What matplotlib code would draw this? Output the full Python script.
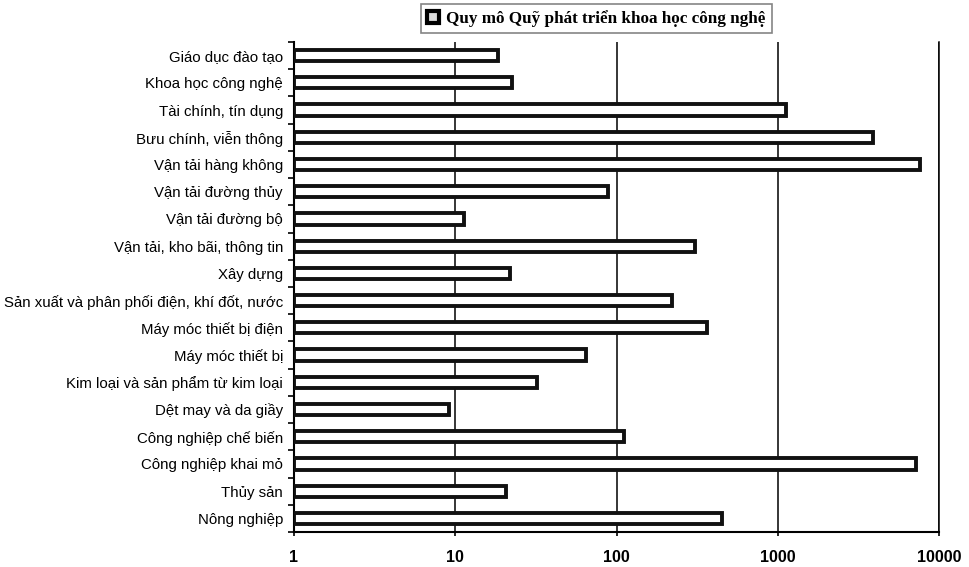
import matplotlib
matplotlib.use("Agg")
import matplotlib.pyplot as plt
import numpy as np
from matplotlib.patches import Patch

categories = [
    "Giáo dục đào tạo",
    "Khoa học công nghệ",
    "Tài chính, tín dụng",
    "Bưu chính, viễn thông",
    "Vận tải hàng không",
    "Vận tải đường thủy",
    "Vận tải đường bộ",
    "Vận tải, kho bãi, thông tin",
    "Xây dựng",
    "Sản xuất và phân phối điện, khí đốt, nước",
    "Máy móc thiết bị điện",
    "Máy móc thiết bị",
    "Kim loại và sản phẩm từ kim loại",
    "Dệt may và da giầy",
    "Công nghiệp chế biến",
    "Công nghiệp khai mỏ",
    "Thủy sản",
    "Nông nghiệp",
]
values = [17.3, 21.4, 1120, 3900, 7600, 87, 10.4, 305, 20.7,
          221, 363, 64, 31, 8.1, 110, 7150, 19.6, 447]
x_ticks = [1, 10, 100, 1000, 10000]
x_ticklabels = ["1", "10", "100", "1000", "10000"]
legend_label = "Quy mô Quỹ phát triển khoa học công nghệ"

plt.rcParams['font.family'] = ['Liberation Sans', 'DejaVu Sans']

fig = plt.figure(figsize=(9.69, 5.67), dpi=100)
ax = fig.add_axes([294/969, 1 - 532/567, (939 - 294)/969, (532 - 42)/567])

y = np.arange(len(categories))
ax.barh(y, values, height=0.41, left=1, color="white", edgecolor="#111111",
        linewidth=2.8, zorder=3)

ax.set_xscale("log")
ax.set_xlim(1, 10000)
ax.set_ylim(len(categories) - 0.5, -0.5)
ax.set_xticks(x_ticks)
ax.set_xticklabels(x_ticklabels, fontweight="bold", fontsize=11.5)
ax.xaxis.set_minor_locator(matplotlib.ticker.NullLocator())
ax.tick_params(axis="x", length=3, width=1.2, pad=10)

ax.set_yticks(y)
ax.set_yticklabels(categories, fontsize=10.8)
ax.tick_params(axis="y", length=0, pad=8)
ax.set_yticks(np.arange(len(categories) + 1) - 0.5, minor=True)
ax.tick_params(axis="y", which="minor", length=4, width=1.2, direction="out")

ax.grid(axis="x", which="major", color="black", linewidth=1.1, zorder=0)
ax.spines["top"].set_visible(False)
ax.spines["right"].set_visible(True)
ax.spines["right"].set_linewidth(1.1)
ax.spines["left"].set_linewidth(1.5)
ax.spines["bottom"].set_linewidth(1.5)

handle = Patch(facecolor="#dddddd", edgecolor="black", linewidth=3)
leg = fig.legend([handle], [legend_label], loc="upper center",
                 bbox_to_anchor=(596.5/969, 1 - 4/567), frameon=True,
                 fancybox=False, edgecolor="#666666",
                 prop={"family": ["Liberation Serif", "DejaVu Serif"],
                       "weight": "bold", "size": 12.3},
                 handlelength=0.7, handleheight=0.7, handletextpad=0.4,
                 borderpad=0.35, borderaxespad=0)
leg.get_frame().set_linewidth(1.2)

fig.savefig("out.png", dpi=100)
